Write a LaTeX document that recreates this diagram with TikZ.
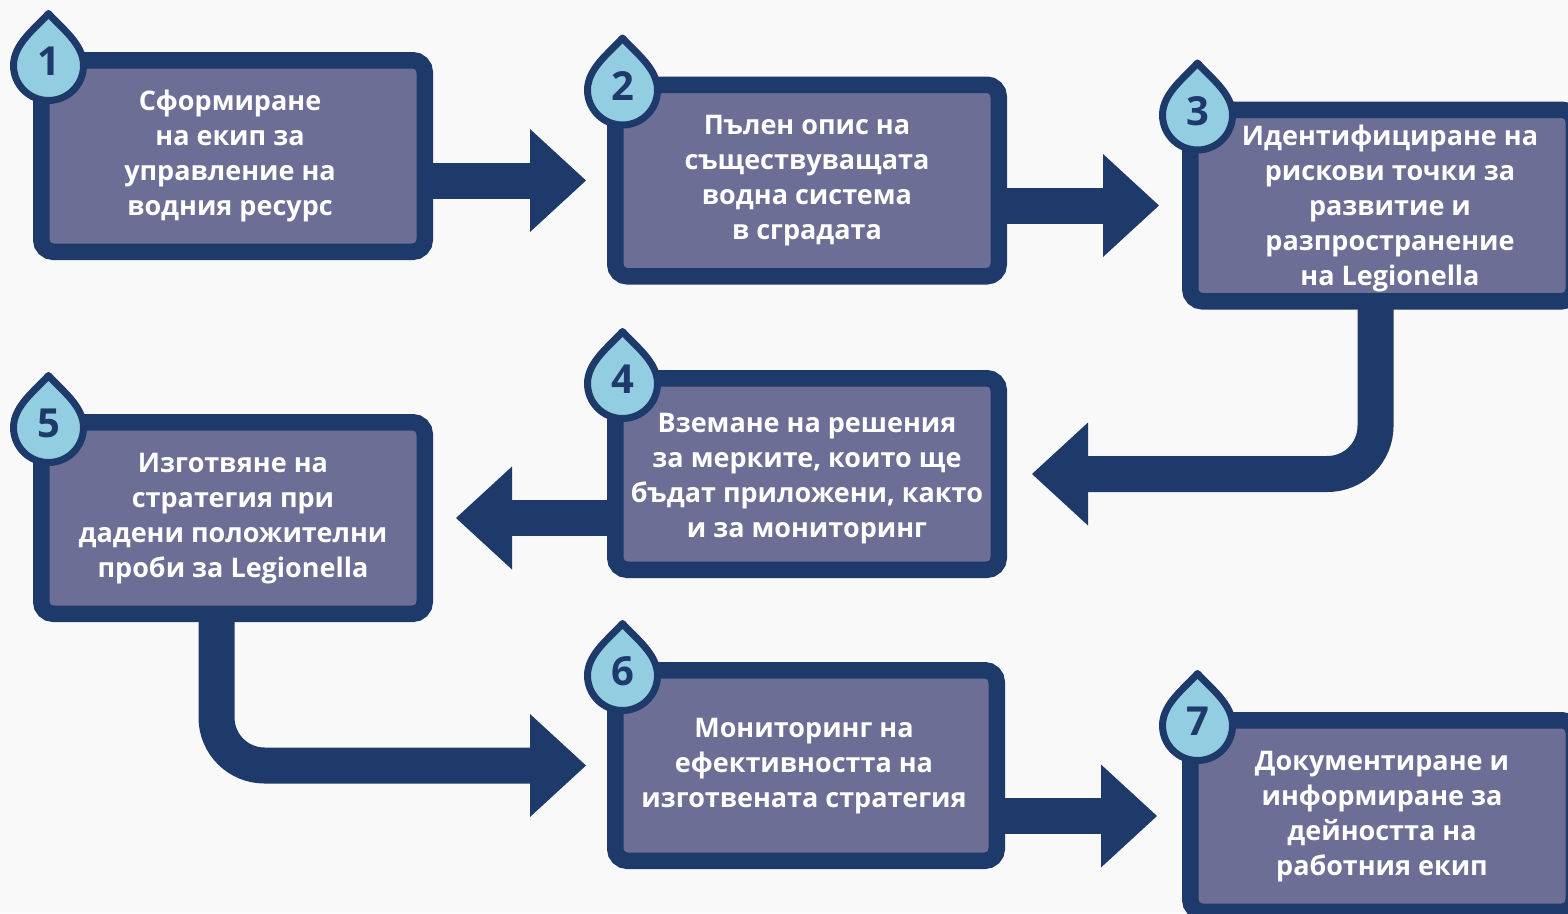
\documentclass[tikz,border=0pt]{standalone}
\usepackage{fontspec}
\setmainfont{Open Sans}
\usetikzlibrary{calc}
\definecolor{navy}{HTML}{1D3A6B}
\definecolor{boxfill}{HTML}{6C6E95}
\definecolor{dropfill}{HTML}{93CDE2}
\definecolor{bgc}{HTML}{F9F9F9}
\tikzset{
  box/.style={draw=navy, fill=boxfill, line width=16.5pt, rounded corners=12pt,
    minimum width=383.5pt, minimum height=191.5pt, inner sep=0pt, text=white,
    font=\bfseries\fontsize{27}{35}\selectfont},
  shaft/.style={draw=navy, line width=36pt},
  headfill/.style={fill=navy},
  dropshape/.style={draw=navy, fill=dropfill, line width=7pt, line join=round},
  num/.style={inner sep=0pt, text=navy, font=\bfseries\fontsize{40}{40}\selectfont},
}
% #1 horizontal offset (doubled), #2 raise, #3 lines
\newcommand\btext[3]{\raisebox{#2}[\height][\depth]{\hspace*{#1}\begin{tabular}{@{}c@{}}#3\end{tabular}}}
\newcommand\headR[1]{\fill[headfill] (#1) -- ($(#1)+(-56,-51.5)$) -- ($(#1)+(-56,51.5)$) -- cycle;}
\newcommand\headL[1]{\fill[headfill] (#1) -- ($(#1)+(56,-51.5)$) -- ($(#1)+(56,51.5)$) -- cycle;}
\newcommand\waterdrop[3]{%
  \coordinate (c#1) at ($(#2.north west)+(15.5,13.5)$);
  \begin{scope}[shift={(c#1)}]
    \path[dropshape] (0,-52) .. controls (12,-38) and (35,-22) .. (35,0)
      .. controls (35,19.3) and (19.3,35) .. (0,35)
      .. controls (-19.3,35) and (-35,19.3) .. (-35,0)
      .. controls (-35,-22) and (-12,-38) .. cycle;
  \end{scope}
  \node[num] (n#1) at ($(c#1)+(0,-4)$) {#3};
}
\begin{document}
\begin{tikzpicture}[x=1pt,y=-1pt]
\useasboundingbox (0,0) rectangle (1568,913);
\fill[bgc] (0,0) rectangle (1568,913);
\clip (0,0) rectangle (1568,913);

\node[box] (b1) at (233,156) {\btext{-6pt}{0pt}{Сформиране\\на екип за\\управление на\\водния ресурс}};
\node[box] (b2) at (807,180.5) {\btext{0pt}{1pt}{Пълен опис на\\съществуващата\\водна система\\в сградата}};
\node[box] (b3) at (1382,205.5) {\btext{16pt}{-3pt}{Идентифициране на\\рискови точки за\\развитие и\\разпространение\\на Legionella}};
\node[box] (b4) at (807,474) {\btext{0pt}{-4pt}{Вземане на решения\\за мерките, които ще\\бъдат приложени, както\\и за мониторинг}};
\node[box] (b5) at (233,518) {\btext{0pt}{0pt}{Изготвяне на\\стратегия при\\дадени положителни\\проби за Legionella}};
\node[box, minimum width=381.5pt, minimum height=190.5pt] (b6) at (806,765.5) {\btext{-4pt}{0pt}{Мониторинг на\\ефективността на\\изготвената стратегия}};
\node[box] (b7) at (1382,816) {\btext{0pt}{0pt}{Документиране и\\информиране за\\дейността на\\работния екип}};

% 1 -> 2
\coordinate (t12) at ($(b2.west)+(-21,0)$);
\coordinate (s12) at (b1.east |- t12);
\draw[shaft] ($(s12)+(-8,0)$) -- ($(t12)+(-55,0)$);
\headR{t12}
% 2 -> 3
\coordinate (t23) at ($(b3.west)+(-23,0)$);
\coordinate (s23) at (b2.east |- t23);
\draw[shaft] ($(s23)+(-8,0)$) -- ($(t23)+(-55,0)$);
\headR{t23}
% 3 -> 4
\coordinate (t34) at ($(b4.east)+(25,0)$);
\coordinate (s34) at ($(b3.south)+(-6.5,-8)$);
\draw[shaft, rounded corners=48pt] (s34) -- (s34 |- t34) -- ($(t34)+(55,0)$);
\headL{t34}
% 4 -> 5
\coordinate (t45) at ($(b5.east)+(23,0)$);
\coordinate (s45) at (b4.west |- t45);
\draw[shaft] ($(s45)+(8,0)$) -- ($(t45)+(55,0)$);
\headL{t45}
% 5 -> 6
\coordinate (t56) at ($(b6.west)+(-21,0)$);
\coordinate (s56) at ($(b5.south)+(-16.5,-8)$);
\draw[shaft, rounded corners=48pt] (s56) -- (s56 |- t56) -- ($(t56)+(-55,0)$);
\headR{t56}
% 6 -> 7
\coordinate (t67) at ($(b7.west)+(-25,0)$);
\coordinate (s67) at (b6.east |- t67);
\draw[shaft] ($(s67)+(-8,0)$) -- ($(t67)+(-55,0)$);
\headR{t67}

\waterdrop{1}{b1}{1}
\waterdrop{2}{b2}{2}
\waterdrop{3}{b3}{3}
\waterdrop{4}{b4}{4}
\waterdrop{5}{b5}{5}
\waterdrop{6}{b6}{6}
\waterdrop{7}{b7}{7}
\end{tikzpicture}
\end{document}
